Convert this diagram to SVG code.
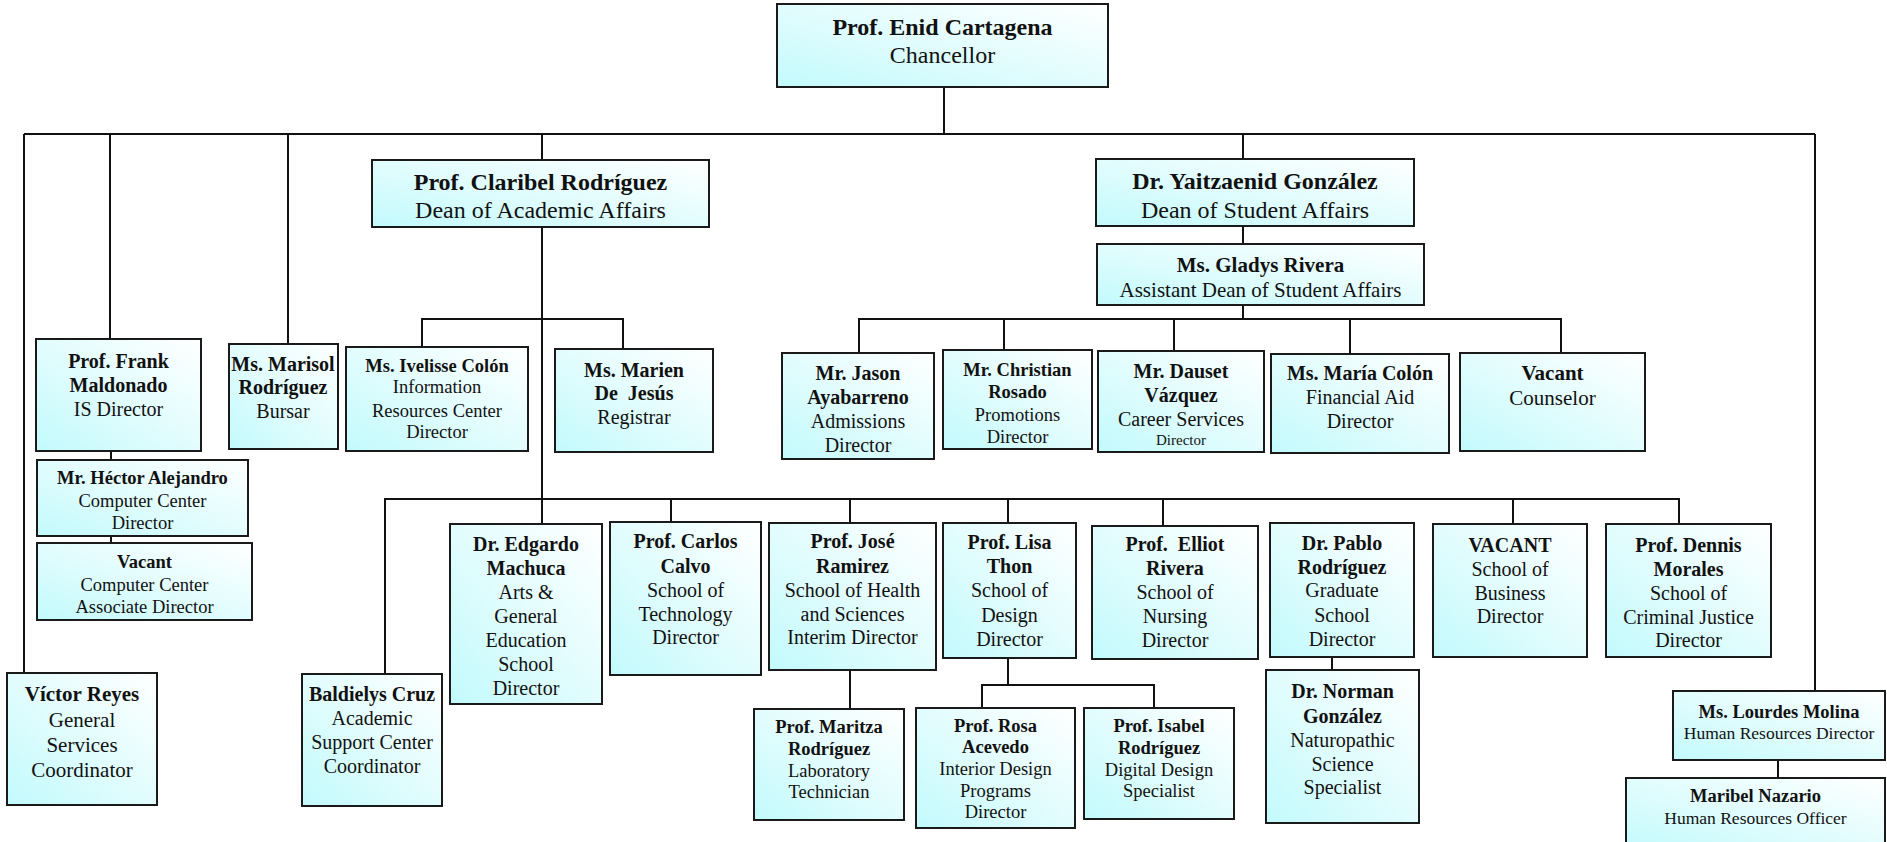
<svg xmlns="http://www.w3.org/2000/svg" width="1887" height="842" viewBox="0 0 1887 842">
<defs>
<linearGradient id="g" x1="0" y1="1" x2="1" y2="0">
<stop offset="0" stop-color="#c2fafc"/>
<stop offset="0.4" stop-color="#dcfcfd"/>
<stop offset="1" stop-color="#ffffff"/>
</linearGradient>
<style>
.box{fill:url(#g);stroke:#1a1a1a;stroke-width:2}
text{font-family:"Liberation Serif","Times New Roman",serif;text-anchor:middle;fill:#111}
.b{font-weight:bold}
.s24{font-size:24px}.s21{font-size:21px}.s20{font-size:20px}.s18{font-size:18.5px}.s17{font-size:17.5px}.s15{font-size:15px}
.c{fill:none;stroke:#111;stroke-width:2}
</style>
</defs>
<rect width="1887" height="842" fill="#fff"/>
<g id="connectors" class="c">
<path d="M944 87V134M24 134H1815M24 134V673M110 134V339M288 134V344M542 134V160M542 227V524M1243 134V159M1243 226V244M1243 305V319M1815 134V691M1778 760V778"/>
<path d="M111 451V460M111 536V543"/>
<path d="M422 347V319H623V349"/>
<path d="M859 353V319H1561V353M1004 319V350M1174 319V351M1350 319V354"/>
<path d="M385 674V499H1679V524M671 499V522M850 499V523M1008 499V523M1163 499V526M1513 499V524"/>
<path d="M850 670V709M1008 658V685M982 708V685H1154V708M1332 657V670"/>
</g>
<g id="chancellor"><rect class="box" x="777" y="4" width="331" height="83"/>
<text x="942.5" y="35" class="b s24">Prof. Enid Cartagena</text><text x="942.5" y="63" class="s24">Chancellor</text></g>
<g id="claribel"><rect class="box" x="372" y="160" width="337" height="67"/>
<text x="540.5" y="190" class="b s24">Prof. Claribel Rodríguez</text><text x="540.5" y="218" class="s24">Dean of Academic Affairs</text></g>
<g id="yaitzaenid"><rect class="box" x="1096" y="159" width="318" height="67"/>
<text x="1255" y="189" class="b s24">Dr. Yaitzaenid González</text><text x="1255" y="218" class="s24">Dean of Student Affairs</text></g>
<g id="gladys"><rect class="box" x="1097" y="244" width="327" height="61"/>
<text x="1260.5" y="272" class="b s21">Ms. Gladys Rivera</text><text x="1260.5" y="297" class="s21">Assistant Dean of Student Affairs</text></g>
<g id="frank"><rect class="box" x="36" y="339" width="165" height="112"/>
<text x="118.5" y="368" class="b s20">Prof. Frank</text><text x="118.5" y="392" class="b s20">Maldonado</text><text x="118.5" y="416" class="s20">IS Director</text></g>
<g id="marisol"><rect class="box" x="229" y="344" width="109" height="105"/>
<text x="283" y="371" class="b s20">Ms. Marisol</text><text x="283" y="394" class="b s20">Rodríguez</text><text x="283" y="418" class="s20">Bursar</text></g>
<g id="ivelisse"><rect class="box" x="346" y="347" width="182" height="104"/>
<text x="437" y="372" class="b s18">Ms. Ivelisse Colón</text><text x="437" y="393" class="s18">Information</text><text x="437" y="417" class="s18">Resources Center</text><text x="437" y="438" class="s18">Director</text></g>
<g id="marien"><rect class="box" x="555" y="349" width="158" height="103"/>
<text x="634" y="377" class="b s20">Ms. Marien</text><text x="634" y="400" class="b s20">De&#160; Jesús</text><text x="634" y="424" class="s20">Registrar</text></g>
<g id="hector"><rect class="box" x="37" y="460" width="211" height="76"/>
<text x="142.5" y="484" class="b s18">Mr. Héctor Alejandro</text><text x="142.5" y="507" class="s18">Computer Center</text><text x="142.5" y="529" class="s18">Director</text></g>
<g id="vacant-cc"><rect class="box" x="37" y="543" width="215" height="77"/>
<text x="144.5" y="568" class="b s18">Vacant</text><text x="144.5" y="591" class="s18">Computer Center</text><text x="144.5" y="613" class="s18">Associate Director</text></g>
<g id="victor"><rect class="box" x="7" y="673" width="150" height="132"/>
<text x="82" y="701" class="b s21">Víctor Reyes</text><text x="82" y="727" class="s21">General</text><text x="82" y="752" class="s21">Services</text><text x="82" y="777" class="s21">Coordinator</text></g>
<g id="jason"><rect class="box" x="782" y="353" width="152" height="106"/>
<text x="858" y="380" class="b s20">Mr. Jason</text><text x="858" y="404" class="b s20">Ayabarreno</text><text x="858" y="428" class="s20">Admissions</text><text x="858" y="452" class="s20">Director</text></g>
<g id="christian"><rect class="box" x="943" y="350" width="149" height="99"/>
<text x="1017.5" y="376" class="b s18">Mr. Christian</text><text x="1017.5" y="398" class="b s18">Rosado</text><text x="1017.5" y="421" class="s18">Promotions</text><text x="1017.5" y="443" class="s18">Director</text></g>
<g id="dauset"><rect class="box" x="1098" y="351" width="166" height="101"/>
<text x="1181" y="378" class="b s20">Mr. Dauset</text><text x="1181" y="402" class="b s20">Vázquez</text><text x="1181" y="426" class="s20">Career Services</text><text x="1181" y="445" class="s15">Director</text></g>
<g id="maria"><rect class="box" x="1271" y="354" width="178" height="99"/>
<text x="1360" y="380" class="b s20">Ms. María Colón</text><text x="1360" y="404" class="s20">Financial Aid</text><text x="1360" y="428" class="s20">Director</text></g>
<g id="counselor"><rect class="box" x="1460" y="353" width="185" height="98"/>
<text x="1552.5" y="380" class="b s21">Vacant</text><text x="1552.5" y="405" class="s21">Counselor</text></g>
<g id="baldielys"><rect class="box" x="302" y="674" width="140" height="132"/>
<text x="372" y="701" class="b s20">Baldielys Cruz</text><text x="372" y="725" class="s20">Academic</text><text x="372" y="749" class="s20">Support Center</text><text x="372" y="773" class="s20">Coordinator</text></g>
<g id="edgardo"><rect class="box" x="450" y="524" width="152" height="180"/>
<text x="526" y="551" class="b s20">Dr. Edgardo</text><text x="526" y="575" class="b s20">Machuca</text><text x="526" y="599" class="s20">Arts &amp;</text><text x="526" y="623" class="s20">General</text><text x="526" y="647" class="s20">Education</text><text x="526" y="671" class="s20">School</text><text x="526" y="695" class="s20">Director</text></g>
<g id="carlos"><rect class="box" x="610" y="522" width="151" height="153"/>
<text x="685.5" y="548" class="b s20">Prof. Carlos</text><text x="685.5" y="573" class="b s20">Calvo</text><text x="685.5" y="597" class="s20">School of</text><text x="685.5" y="621" class="s20">Technology</text><text x="685.5" y="644" class="s20">Director</text></g>
<g id="jose"><rect class="box" x="769" y="523" width="167" height="147"/>
<text x="852.5" y="548" class="b s20">Prof. José</text><text x="852.5" y="573" class="b s20">Ramirez</text><text x="852.5" y="597" class="s20">School of Health</text><text x="852.5" y="621" class="s20">and Sciences</text><text x="852.5" y="644" class="s20">Interim Director</text></g>
<g id="lisa"><rect class="box" x="943" y="523" width="133" height="135"/>
<text x="1009.5" y="549" class="b s20">Prof. Lisa</text><text x="1009.5" y="573" class="b s20">Thon</text><text x="1009.5" y="597" class="s20">School of</text><text x="1009.5" y="622" class="s20">Design</text><text x="1009.5" y="646" class="s20">Director</text></g>
<g id="elliot"><rect class="box" x="1092" y="526" width="166" height="133"/>
<text x="1175" y="551" class="b s20">Prof.&#160; Elliot</text><text x="1175" y="575" class="b s20">Rivera</text><text x="1175" y="599" class="s20">School of</text><text x="1175" y="623" class="s20">Nursing</text><text x="1175" y="647" class="s20">Director</text></g>
<g id="pablo"><rect class="box" x="1270" y="523" width="144" height="134"/>
<text x="1342" y="550" class="b s20">Dr. Pablo</text><text x="1342" y="574" class="b s20">Rodríguez</text><text x="1342" y="597" class="s20">Graduate</text><text x="1342" y="622" class="s20">School</text><text x="1342" y="646" class="s20">Director</text></g>
<g id="vacant-business"><rect class="box" x="1433" y="524" width="154" height="133"/>
<text x="1510" y="552" class="b s20">VACANT</text><text x="1510" y="576" class="s20">School of</text><text x="1510" y="600" class="s20">Business</text><text x="1510" y="623" class="s20">Director</text></g>
<g id="dennis"><rect class="box" x="1606" y="524" width="165" height="133"/>
<text x="1688.5" y="552" class="b s20">Prof. Dennis</text><text x="1688.5" y="576" class="b s20">Morales</text><text x="1688.5" y="600" class="s20">School of</text><text x="1688.5" y="624" class="s20">Criminal Justice</text><text x="1688.5" y="647" class="s20">Director</text></g>
<g id="maritza"><rect class="box" x="754" y="709" width="150" height="111"/>
<text x="829" y="733" class="b s18">Prof. Maritza</text><text x="829" y="755" class="b s18">Rodríguez</text><text x="829" y="777" class="s18">Laboratory</text><text x="829" y="798" class="s18">Technician</text></g>
<g id="rosa"><rect class="box" x="916" y="708" width="159" height="120"/>
<text x="995.5" y="732" class="b s18">Prof. Rosa</text><text x="995.5" y="753" class="b s18">Acevedo</text><text x="995.5" y="775" class="s18">Interior Design</text><text x="995.5" y="797" class="s18">Programs</text><text x="995.5" y="818" class="s18">Director</text></g>
<g id="isabel"><rect class="box" x="1084" y="708" width="150" height="111"/>
<text x="1159" y="732" class="b s18">Prof. Isabel</text><text x="1159" y="754" class="b s18">Rodríguez</text><text x="1159" y="776" class="s18">Digital Design</text><text x="1159" y="797" class="s18">Specialist</text></g>
<g id="norman"><rect class="box" x="1266" y="670" width="153" height="153"/>
<text x="1342.5" y="698" class="b s20">Dr. Norman</text><text x="1342.5" y="723" class="b s20">González</text><text x="1342.5" y="747" class="s20">Naturopathic</text><text x="1342.5" y="771" class="s20">Science</text><text x="1342.5" y="794" class="s20">Specialist</text></g>
<g id="lourdes"><rect class="box" x="1673" y="691" width="212" height="69"/>
<text x="1779" y="718" class="b s18">Ms. Lourdes Molina</text><text x="1779" y="739" class="s17">Human Resources Director</text></g>
<g id="maribel"><rect class="box" x="1626" y="778" width="259" height="72"/>
<text x="1755.5" y="802" class="b s18">Maribel Nazario</text><text x="1755.5" y="824" class="s17">Human Resources Officer</text></g>
</svg>
